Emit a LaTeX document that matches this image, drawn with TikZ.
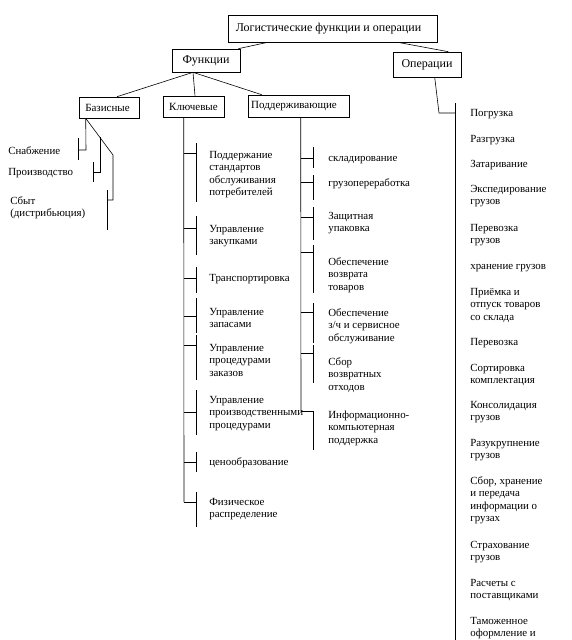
\documentclass[tikz,border=0pt]{standalone}
\usepackage{fontspec}
\setmainfont{Liberation Serif}
\begin{document}
\begin{tikzpicture}[x=1pt,y=-1pt, line width=0.6pt,
  box/.style={draw, inner sep=0pt, font=\fontsize{11}{13}\selectfont},
  lbl/.style={anchor=north west, align=left, inner sep=0pt, font=\fontsize{10.9}{12.5}\selectfont}]
\useasboundingbox (0,0) rectangle (572,640);
% boxes
\node[box, minimum width=209, minimum height=27, font=\fontsize{12}{14}\selectfont] (top) at (332.5,28.5) {Логистические функции и операции\hspace*{8pt}};
\node[box, minimum width=68, minimum height=23, font=\fontsize{12}{14}\selectfont] (fun) at (206,60.5) {Функции};
\node[box, minimum width=68, minimum height=25, font=\fontsize{12}{14}\selectfont] (ops) at (427,64.5) {Операции};
\node[box, minimum width=60, minimum height=21] (bas) at (109,107.5) {Базисные\hspace*{3pt}};
\node[box, minimum width=61, minimum height=21] (key) at (193.5,106.5) {Ключевые};
\node[box, minimum width=101, minimum height=22] (sup) at (298.5,106) {Поддерживающие\hspace*{9pt}};
% top connectors
\draw ([xshift=40]top.south west) -- ([xshift=-2]fun.north east);
\draw ([xshift=170]top.south west) -- ([xshift=-13]ops.north east);
\coordinate (fc) at ([xshift=-13]fun.south);
\draw (fc) -- ([xshift=8]bas.north);
\draw (fc) -- ([xshift=1.5]key.north);
\draw (fc) -- ([xshift=14]sup.north west);
% basis bracket
\coordinate (b0) at ([xshift=7]bas.south west);
\draw (b0) -- (86,150) -- (78,150);
\draw (78,138) -- (78,160);
\draw (b0) -- (113,155) -- (113,200) -- (107,200);
\draw (107,190) -- (107,230);
\draw (100,137.2) -- (100,172) -- (93,172);
\draw (93,162) -- (93,182);
\node[lbl] (sn) at (8,145) {\strut Снабжение};
\node[lbl] (pr) at (8,166) {\strut Производство};
\node[lbl] (sb) at (10,195) {\strut Сбыт\\(дистрибьюция)};
% key bracket
\draw ([xshift=21]key.south west) -- (184,502);
\foreach \h/\a/\b in {153/143/202, 228/216/255, 278/267/293, 316/298/333, 345/335/380, 412/390/435, 462/452/472, 502/492/527}{
  \draw (184,\h) -- (196,\h);
  \draw (196,\a) -- (196,\b);
}
\node[lbl] (k1) at (209,149) {\strut Поддержание\\стандартов\\обслуживания\\потребителей};
\node[lbl] (k2) at (209,223) {\strut Управление\\закупками};
\node[lbl] (k3) at (209,272) {\strut Транспортировка};
\node[lbl] (k4) at (209,306) {\strut Управление\\запасами};
\node[lbl] (k5) at (209,342) {\strut Управление\\процедурами\\заказов};
\node[lbl] (k6) at (209,394) {\strut Управление\\производственными\\процедурами};
\node[lbl] (k7) at (209,456) {\strut ценообразование};
\node[lbl] (k8) at (209,496) {\strut Физическое\\распределение};
% support bracket
\draw ([xshift=53]sup.south west) -- (301,411);
\foreach \h/\a/\b in {158/147/168, 182/175/200, 217/207/240, 252/245/293, 312/303/343, 353/345/383}{
  \draw (301,\h) -- (313,\h);
  \draw (313,\a) -- (313,\b);
}
\draw (301,411) -- (313,411) -- (313,450);
\node[lbl] (s1) at (328,152) {\strut складирование};
\node[lbl] (s2) at (328,177) {\strut грузопереработка};
\node[lbl] (s3) at (328,210) {\strut Защитная\\упаковка};
\node[lbl] (s4) at (328,256) {\strut Обеспечение\\возврата\\товаров};
\node[lbl] (s5) at (328,307) {\strut Обеспечение\\з/ч и сервисное\\обслуживание};
\node[lbl] (s6) at (328,356) {\strut Сбор\\возвратных\\отходов};
\node[lbl] (s7) at (328,409) {\strut Информационно-\\компьютерная\\поддержка};
% operations
\draw ([xshift=42]ops.south west) -- (439,113) -- (455,113);
\draw (455,103) -- (455,640);
\node[lbl] (o1) at (470,107) {\strut Погрузка};
\node[lbl] (o2) at (470,133) {\strut Разгрузка};
\node[lbl] (o3) at (470,158) {\strut Затаривание};
\node[lbl] (o4) at (470,183) {\strut Экспедирование\\грузов};
\node[lbl] (o5) at (470,222) {\strut Перевозка\\грузов};
\node[lbl] (o6) at (470,260) {\strut хранение грузов};
\node[lbl] (o7) at (470,286) {\strut Приёмка и\\отпуск товаров\\со склада};
\node[lbl] (o8) at (470,336) {\strut Перевозка};
\node[lbl] (o9) at (470,362) {\strut Сортировка\\комплектация};
\node[lbl] (o10) at (470,399) {\strut Консолидация\\грузов};
\node[lbl] (o11) at (470,437) {\strut Разукрупнение\\грузов};
\node[lbl] (o12) at (470,475) {\strut Сбор, хранение\\и передача\\информации о\\грузах};
\node[lbl] (o13) at (470,539) {\strut Страхование\\грузов};
\node[lbl] (o14) at (470,577) {\strut Расчеты с\\поставщиками};
\node[lbl] (o15) at (470,615) {\strut Таможенное\\оформление и};
\end{tikzpicture}
\end{document}
